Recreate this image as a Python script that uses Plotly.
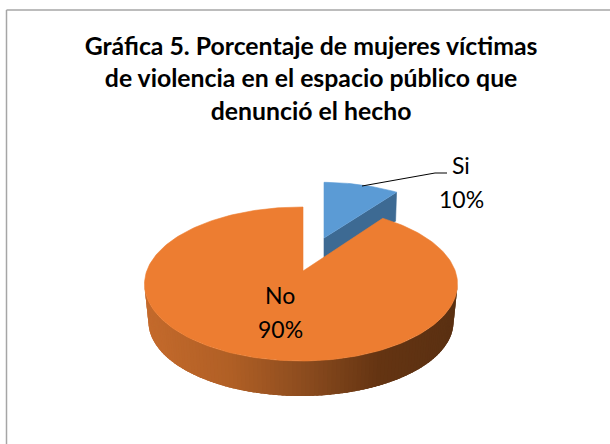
import numpy as np
import plotly.graph_objects as go

labels = ["Si", "No"]
values = [10, 90]
title_lines = ["Gráfica 5. Porcentaje de mujeres víctimas",
               "de violencia en el espacio público que",
               "denunció el hecho"]

COL_BLUE, COL_BLUE_DK, COL_ORANGE = "#5B9BD5", "#3D6A93", "#ED7D31"
FONT = "Lato, Carlito, sans-serif"

# projected pie geometry (pixel-space axes)
cx, cy, a, b = 301.0, 284.0, 156.5, 77.0
apex = np.array([303.0, 271.0])
cx2, cy2, a2, b2 = 301.0, 322.0, 152.5, 74.0
k = 0.48
si_angle = 360.0 * values[0] / sum(values)


def rim(theta_deg):
    """Point on the top ellipse, along a perspective ray from the apex."""
    t = np.radians(theta_deg)
    d = np.array([np.sin(t), -k * np.cos(t)])
    p = apex - np.array([cx, cy])
    A = (d[0] / a) ** 2 + (d[1] / b) ** 2
    B = 2 * (p[0] * d[0] / a ** 2 + p[1] * d[1] / b ** 2)
    C = (p[0] / a) ** 2 + (p[1] / b) ** 2 - 1
    s = (-B + np.sqrt(B * B - 4 * A * C)) / (2 * A)
    return apex + s * d


fig = go.Figure()


def poly(xs, ys, color, lw=0.6):
    fig.add_trace(go.Scatter(x=list(xs), y=list(ys), mode="lines", fill="toself",
                             fillcolor=color, line=dict(color=color, width=lw),
                             hoverinfo="skip", showlegend=False))


# "Si" slice: exploded and drawn first, "No" overlaps it
si_apex = np.array([324.0, 238.0])
scale = np.array([0.91, 0.87])
arc = np.array([si_apex + scale * (rim(th) - apex) for th in np.linspace(0, si_angle, 30)])
corner = arc[-1]
poly([si_apex[0], si_apex[0], corner[0] - 1, corner[0]],
     [si_apex[1], si_apex[1] + 20, corner[1] + 29, corner[1]], COL_BLUE_DK)
poly([si_apex[0], *arc[:, 0], si_apex[0]], [si_apex[1], *arc[:, 1], si_apex[1]], COL_BLUE)

# "No" slice side wall: gradient strips, each overlapping the next one
stops_x = [145, 230, 300, 380, 458]
stops_rgb = np.array([[196, 106, 44], [176, 95, 37], [142, 77, 31], [100, 52, 18], [90, 48, 18]])
n = 110
ts = np.linspace(0, np.pi, n + 1)
overlap = 2.5 * np.pi / n
for t0 in ts[:-1]:
    arc_t = np.linspace(t0, min(t0 + overlap, np.pi), 5)
    xs = [*(cx + a * np.cos(arc_t)), *(cx2 + a2 * np.cos(arc_t[::-1]))]
    ys = [*(cy + b * np.sin(arc_t)), *(cy2 + b2 * np.sin(arc_t[::-1]))]
    xm = cx + a * np.cos(t0 + np.pi / n / 2)
    rgb = [int(round(np.interp(xm, stops_x, stops_rgb[:, i]))) for i in range(3)]
    poly(xs, ys, f"rgb({rgb[0]},{rgb[1]},{rgb[2]})", lw=0)

# "No" slice top
top = np.array([rim(th) for th in np.linspace(si_angle, 360, 240)])
poly([apex[0], *top[:, 0], apex[0]], [apex[1], *top[:, 1], apex[1]], COL_ORANGE)

# leader line for "Si"
fig.add_trace(go.Scatter(x=[362, 435, 447], y=[186, 173, 173], mode="lines",
                         line=dict(color="#000000", width=1), hoverinfo="skip", showlegend=False))

annotations = []
for lab, val, (x, y0) in zip(labels, values, [(461, 165), (280, 295)]):
    annotations.append(dict(x=x, y=y0, text=lab, showarrow=False, xref="x", yref="y",
                            font=dict(family=FONT, size=23, color="#000000")))
    annotations.append(dict(x=x, y=y0 + 34, text=f"{val}%", showarrow=False, xref="x", yref="y",
                            font=dict(family=FONT, size=23, color="#000000")))

fig.update_layout(
    width=610, height=444, autosize=False,
    margin=dict(l=0, r=0, t=0, b=0),
    paper_bgcolor="#ffffff", plot_bgcolor="#ffffff",
    showlegend=False,
    title=dict(text="<br>".join(title_lines), x=0.51, xanchor="center", y=0.876, yanchor="top",
               font=dict(family=FONT, size=24.8, color="#000000", weight="bold")),
    xaxis=dict(range=[0, 610], visible=False, fixedrange=True),
    yaxis=dict(range=[444, 0], visible=False, fixedrange=True),
    annotations=annotations,
    shapes=[dict(type="line", x0=6.5, x1=6.5, y0=10, y1=444, line=dict(color="#A6A6A6", width=1.5)),
            dict(type="line", x0=6.5, x1=610, y0=10, y1=10, line=dict(color="#A6A6A6", width=1.5))],
)
fig.write_html("out.html", config=dict(displayModeBar=False),
               post_script="document.body.style.margin='0';document.documentElement.style.overflow='hidden';")
